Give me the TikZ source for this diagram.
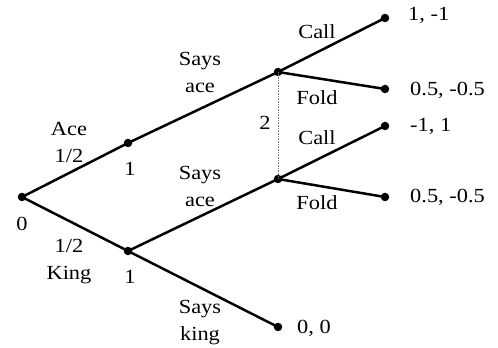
\documentclass[tikz,border=0pt]{standalone}
\usepackage{fontspec}
\setmainfont[FakeStretch=1.12]{Liberation Serif}
\begin{document}
\begin{tikzpicture}[x=1pt,y=1pt,
  dot/.style={circle,fill=black,inner sep=0pt,minimum size=8.5pt},
  edge/.style={line width=2.5pt},
  lbl/.style={inner sep=0pt,align=center,font=\fontsize{20}{27}\selectfont},
  pay/.style={inner sep=0pt,anchor=west,font=\fontsize{20}{27}\selectfont}]
\useasboundingbox (0,0) rectangle (498,348);
\node[dot] (r) at (22,151) {};
\node[dot] (a1) at (128,205) {};
\node[dot] (k1) at (128,97) {};
\node[dot] (u) at (278,276) {};
\node[dot] (l) at (278,169) {};
\node[dot] (sk) at (278,21) {};
\node[dot] (c1) at (385,330) {};
\node[dot] (f1) at (385,259) {};
\node[dot] (c2) at (385,222) {};
\node[dot] (f2) at (385,151) {};
\draw[edge] (r.center) -- (a1.center) -- (u.center) -- (c1.center);
\draw[edge] (u.center) -- (f1.center);
\draw[edge] (r.center) -- (k1.center) -- (l.center) -- (c2.center);
\draw[edge] (l.center) -- (f2.center);
\draw[edge] (k1.center) -- (sk.center);
\draw[densely dotted,gray,line width=0.6pt] (u.center) -- (l.center);
\node[lbl] (tace) at (69,206) {Ace\\1/2};
\node[lbl] (t0) at (22,124) {0};
\node[lbl] (t1a) at (130,179) {1};
\node[lbl] (t1k) at (130,71) {1};
\node[lbl] (tking) at (69,86) {1/2\\King};
\node[lbl] (sa1) at (200,276) {Says\\ace};
\node[lbl] (sa2) at (200,162) {Says\\ace};
\node[lbl] (skt) at (200,25) {Says\\king};
\node[lbl] (call1) at (317,316) {Call};
\node[lbl] (fold1) at (317,250) {Fold};
\node[lbl] (t2) at (265,225) {2};
\node[lbl] (call2) at (317,210) {Call};
\node[lbl] (fold2) at (317,145) {Fold};
\node[pay] (p1) at (408,333) {1, -1};
\node[pay] (p2) at (410,258) {0.5, -0.5};
\node[pay] (p3) at (410,222) {-1, 1};
\node[pay] (p4) at (410,151) {0.5, -0.5};
\node[pay] (p5) at (297,20) {0, 0};
\end{tikzpicture}
\end{document}
